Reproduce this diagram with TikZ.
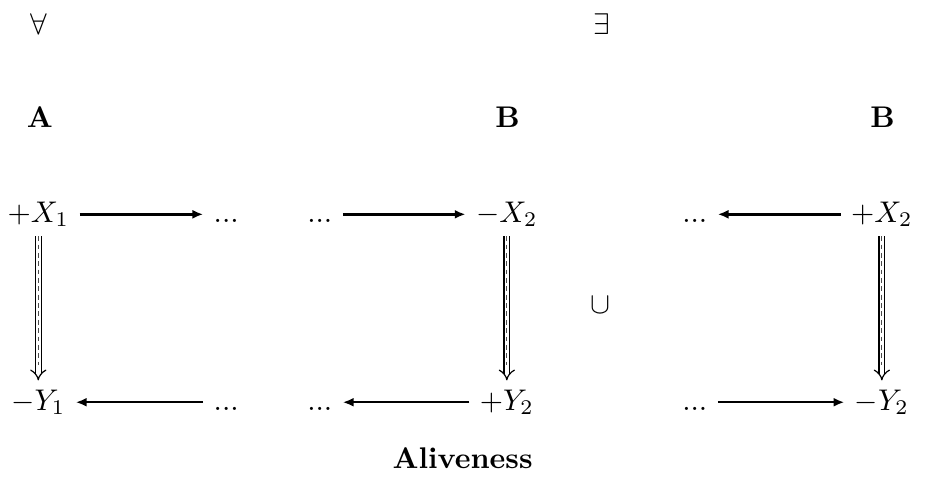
\documentclass[tikz,border=0pt]{standalone}
\usepackage{tikz}
\usetikzlibrary{arrows.meta,positioning}

\begin{document}
\begin{tikzpicture}[
    term/.style={text height=1.5ex, text depth=.25ex},
    head/.style={font=\bfseries},
    arrow/.style={-{Latex[length=3.6pt,width=3pt]}, thick},
    implies/.style={double, double distance=1.5pt, -{Implies}},
    middash/.style={dashed, dash pattern=on 1.6pt off 1.2pt, black!70, shorten >=5pt}
]
    \useasboundingbox (0,0) rectangle (10.936,-5.609);

    % Quantifiers
    \node (all) at (0.46,-0.28) {$\forall$};
    \node (ex) at (7.08,-0.28) {$\exists$};

    % Headers
    \node[head] (hA) at (0.47,-1.38) {A};
    \node[head] (hB) at (5.97,-1.38) {B};
    \node[head] (hC) at (10.38,-1.38) {B};

    % Upper row
    \node[term] (xA) at (0.45,-2.52) {$+X_1$};
    \node[term] (dA1) at (2.66,-2.52) {...};
    \node[term] (dB1) at (3.76,-2.52) {...};
    \node[term] (xB) at (5.96,-2.52) {$-X_2$};
    \node[term] (dC1) at (8.17,-2.52) {...};
    \node[term] (xC) at (10.37,-2.52) {$+X_2$};

    % Lower row
    \node[term] (yA) at (0.45,-4.73) {$-Y_1$};
    \node[term] (dA2) at (2.66,-4.73) {...};
    \node[term] (dB2) at (3.76,-4.73) {...};
    \node[term] (yB) at (5.96,-4.73) {$+Y_2$};
    \node[term] (dC2) at (8.17,-4.73) {...};
    \node[term] (yC) at (10.37,-4.73) {$-Y_2$};

    \node (cup) at (7.06,-3.59) {$\cup$};
    \node[head] (title) at (5.44,-5.39) {Aliveness};

    \draw[arrow] (xA) -- (dA1);
    \draw[arrow] (dB1) -- (xB);
    \draw[arrow] (xC) -- (dC1);
    \draw[arrow] (dA2) -- (yA);
    \draw[arrow] (yB) -- (dB2);
    \draw[arrow] (dC2) -- (yC);

    \draw[implies] (xA) -- (yA);
    \draw[middash] (xA) -- (yA);
    \draw[implies] (xB) -- (yB);
    \draw[middash] (xB) -- (yB);
    \draw[implies] (xC) -- (yC);
    \draw[middash] (xC) -- (yC);
\end{tikzpicture}
\end{document}
